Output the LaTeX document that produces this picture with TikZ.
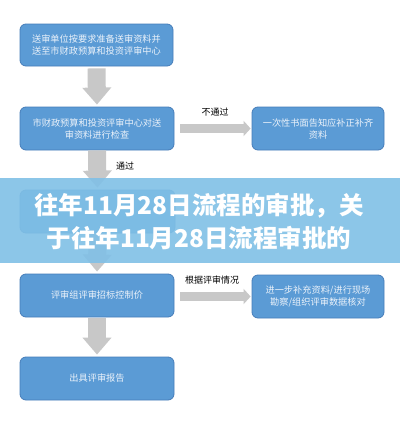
\documentclass[tikz,border=0pt]{standalone}
\usepackage{fontspec}
\setmainfont{Noto Sans CJK SC}
\newfontfamily\cjk{Noto Sans CJK SC}
\usetikzlibrary{arrows.meta}
\definecolor{boxblue}{RGB}{91,155,213}
\definecolor{boxedge}{RGB}{70,125,185}
\definecolor{arrgray}{RGB}{200,200,200}
\definecolor{banner}{RGB}{128,192,230}
\definecolor{boxtext}{RGB}{235,242,250}
\tikzset{
  flowbox/.style={draw=boxedge, line width=0.8pt, fill=boxblue, rounded corners=6pt,
    text=boxtext, align=center, inner sep=2pt,
    font=\cjk\fontsize{9.2pt}{12pt}\selectfont},
  downarrow/.style={draw=arrgray, line width=18pt, -{Triangle[width=28pt,length=17pt]}},
  rightarrow/.style={draw=arrgray, line width=9pt, -{Triangle[width=15pt,length=7pt]}},
  lbl/.style={font=\cjk\fontsize{9pt}{11pt}\selectfont, text=black, inner sep=0pt}
}
\begin{document}
\begin{tikzpicture}[x=1pt,y=-1pt]
\useasboundingbox (0,0) rectangle (400,445);
\fill[white] (0,0) rectangle (400,445);

\node[flowbox, minimum width=153pt, minimum height=42pt] (b1) at (96.5,45) {送审单位按要求准备送审资料并\\送至市财政预算和投资评审中心};
\node[flowbox, minimum width=154pt, minimum height=43pt] (b2) at (97,128.5) {市财政预算和投资评审中心对送\\审资料进行检查};
\node[flowbox, minimum width=132pt, minimum height=43pt] (b3) at (318,128.5) {一次性书面告知应补正补齐\\资料};
\node[flowbox, minimum width=155pt, minimum height=43pt] (bh) at (97.5,211.5) {};
\node[flowbox, minimum width=154pt, minimum height=43pt] (b4) at (97,295.5) {评审组评审招标控制价};
\node[flowbox, minimum width=132pt, minimum height=43pt] (b5) at (318,296.5) {进一步补充资料/进行现场\\勘察/组织评审数据核对};
\node[flowbox, minimum width=154pt, minimum height=43pt] (b6) at (97,378.5) {出具评审报告};

\draw[downarrow, shorten <=2pt, shorten >=2pt] (b1.south) -- (b2.north);
\draw[downarrow, shorten <=0pt, shorten >=2pt] (b2.south) -- (bh.north);
\draw[downarrow, shorten <=0pt, shorten >=2pt] (bh.south) -- (b4.north);
\draw[downarrow, shorten <=1pt, shorten >=2pt] (b4.south) -- (b6.north);
\draw[rightarrow, shorten <=6pt, shorten >=1pt] (b2.east) -- (b3.west);
\draw[rightarrow, shorten <=6pt, shorten >=1pt] (b4.east |- b5.west) -- (b5.west);

\node[lbl] (l1) at (215,112) {不通过};
\node[lbl] (l2) at (125,166) {通过};
\node[lbl] (l3) at (212,280) {根据评审情况};

\fill[banner, opacity=0.9] (0,178) rectangle (400,263);
\node[font=\cjk\bfseries\fontsize{24.5pt}{33pt}\selectfont, text=white, align=center, inner sep=0pt] (title) at (199,221.5)
  {往年11月28日流程的审批，关\\于往年11月28日流程审批的};
\end{tikzpicture}
\end{document}
